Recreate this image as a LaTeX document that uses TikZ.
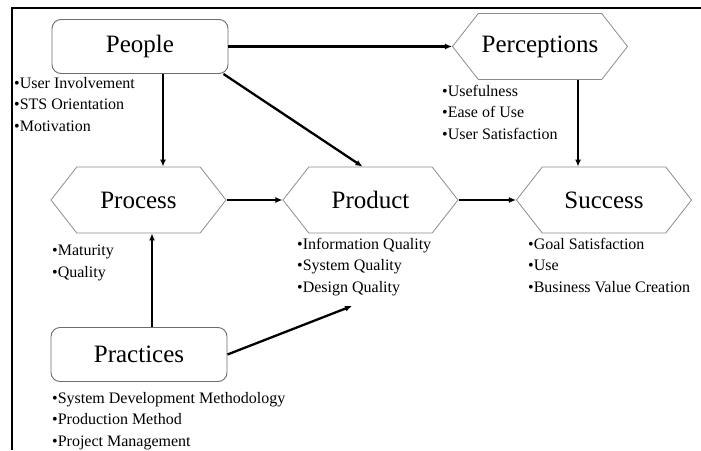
\documentclass[tikz,border=0pt]{standalone}
\usepackage{fontspec}
\setmainfont{Liberation Serif}
\usetikzlibrary{arrows.meta,positioning,shapes.symbols}

\tikzset{
  box/.style={draw=gray!85!black, line width=0.9pt, rounded corners=9pt,
    minimum width=176pt, minimum height=54pt, font=\fontsize{25}{30}\selectfont},
  hexa/.style={signal, signal to=east and west, signal pointer angle=104,
    draw=gray!90, line width=0.8pt, minimum width=175pt, minimum height=66pt,
    font=\fontsize{25}{30}\selectfont},
  items/.style={anchor=north west, inner sep=0pt, align=left,
    font=\fontsize{16}{21.5}\selectfont},
  arr/.style={arrows={-Latex[length=7pt,width=6pt]}, line width=2.3pt},
}

\begin{document}
\begin{tikzpicture}[x=1pt,y=-1pt]
  \useasboundingbox (0,0) rectangle (701,450);
  \draw[line width=2.5pt] (12,450) -- (12,8) -- (701,8);

  % main blocks
  \node[box] (people) at (140,46.5) {People};
  \node[box] (practices) at (139,354.5) {Practices};
  \node[hexa] (perceptions) at (540,46.5) {Perceptions};
  \node[hexa] (process) at (138.5,200) {Process};
  \node[hexa] (product) at (370.5,200) {Product};
  \node[hexa] (success) at (604,200) {Success};

  % bullet lists
  \node[items] (peoplelist) at (14,77) {•User Involvement\\•STS Orientation\\•Motivation};
  \node[items] (perclist) at (442,85) {•Usefulness\\•Ease of Use\\•User Satisfaction};
  \node[items] (proclist) at (52,245) {•Maturity\\•Quality};
  \node[items] (prodlist) at (297,238) {•Information Quality\\•System Quality\\•Design Quality};
  \node[items] (succlist) at (528,238) {•Goal Satisfaction\\•Use\\•Business Value Creation};
  \node[items] (praclist) at (52,392) {•System Development Methodology\\•Production Method\\•Project Management};

  \coordinate (pq) at (352,306);

  % links
  \draw[arr] (people.east) -- (perceptions.west);
  \draw[arr] ([xshift=23pt]people.south) -- ([xshift=23pt]people.south |- process.north);
  \draw[arr] ([xshift=-5pt]people.south east) -- ([xshift=-8pt]product.north);
  \draw[arr] ([xshift=38pt]perceptions.south) -- ([xshift=38pt]perceptions.south |- success.north);
  \draw[arr] (process.east) -- (product.west);
  \draw[arr] (product.east) -- (success.west);
  \draw[arr] ([xshift=13pt]practices.north) -- ([xshift=13pt]practices.north |- process.south);
  \draw[arr] (practices.east) -- (pq);
\end{tikzpicture}
\end{document}
